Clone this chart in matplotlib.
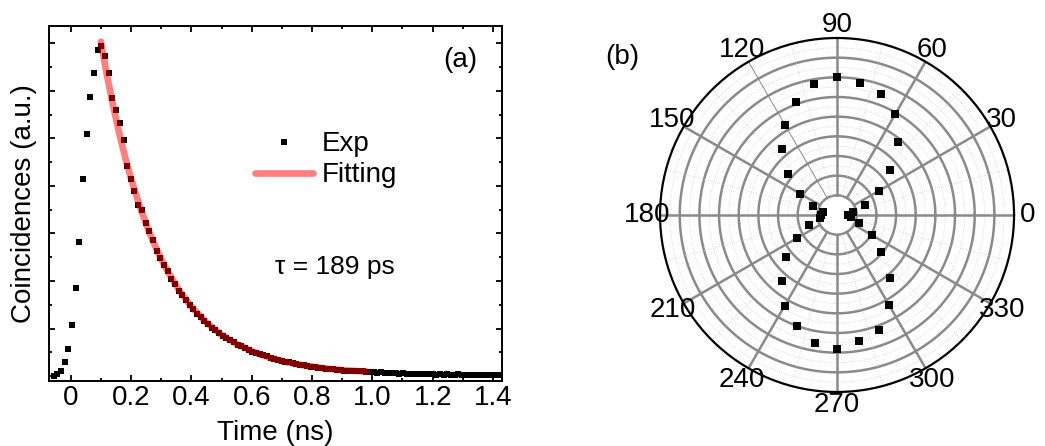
import numpy as np
import matplotlib
matplotlib.use('Agg')
import matplotlib.pyplot as plt
from matplotlib.ticker import MultipleLocator, FixedLocator, FixedFormatter

plt.rcParams['font.family'] = ['Liberation Sans', 'DejaVu Sans']

# ---- panel (a): time-resolved coincidences (a.u.) ----
time_ns = [-0.057, -0.045, -0.033, -0.020, -0.008, 0.004, 0.016, 0.028, 0.041, 0.053,
           0.065, 0.077, 0.089, 0.102, 0.114, 0.126, 0.138, 0.150, 0.163, 0.175,
           0.187, 0.199, 0.211, 0.224, 0.236, 0.248, 0.260, 0.272, 0.285, 0.297,
           0.309, 0.321, 0.333, 0.346, 0.358, 0.370, 0.382, 0.394, 0.407, 0.419,
           0.431, 0.443, 0.455, 0.468, 0.480, 0.492, 0.504, 0.516, 0.529, 0.541,
           0.553, 0.565, 0.577, 0.590, 0.602, 0.614, 0.626, 0.638, 0.651, 0.663,
           0.675, 0.687, 0.699, 0.712, 0.724, 0.736, 0.748, 0.760, 0.773, 0.785,
           0.797, 0.809, 0.821, 0.834, 0.846, 0.858, 0.870, 0.882, 0.895, 0.907,
           0.919, 0.931, 0.943, 0.956, 0.968, 0.980, 0.992, 1.004, 1.017, 1.029,
           1.041, 1.053, 1.065, 1.078, 1.090, 1.102, 1.114, 1.126, 1.139, 1.151,
           1.163, 1.175, 1.187, 1.200, 1.212, 1.224, 1.236, 1.248, 1.261, 1.273,
           1.285, 1.297, 1.309, 1.322, 1.334, 1.346, 1.358, 1.370, 1.383, 1.395,
           1.407, 1.419, 1.431]
counts = [0.01, 0.05, 0.12, 0.29, 0.57, 1.07, 1.86, 2.83, 4.14, 5.10,
          5.87, 6.38, 6.86, 6.95, 6.72, 6.37, 5.85, 5.59, 5.32, 4.96,
          4.42, 4.14, 3.89, 3.59, 3.50, 3.21, 3.05, 2.86, 2.64, 2.49,
          2.33, 2.21, 2.05, 1.93, 1.80, 1.70, 1.60, 1.50, 1.42, 1.31,
          1.24, 1.17, 1.10, 1.02, 0.97, 0.91, 0.85, 0.81, 0.76, 0.72,
          0.66, 0.63, 0.60, 0.56, 0.52, 0.49, 0.47, 0.44, 0.42, 0.39,
          0.37, 0.35, 0.33, 0.31, 0.29, 0.27, 0.26, 0.24, 0.23, 0.22,
          0.20, 0.19, 0.18, 0.17, 0.16, 0.15, 0.15, 0.14, 0.13, 0.12,
          0.12, 0.11, 0.11, 0.10, 0.10, 0.09, 0.09, 0.08, 0.07, 0.08,
          0.06, 0.07, 0.06, 0.06, 0.05, 0.06, 0.05, 0.05, 0.04, 0.05,
          0.04, 0.05, 0.04, 0.04, 0.03, 0.04, 0.03, 0.04, 0.03, 0.03,
          0.04, 0.03, 0.02, 0.03, 0.03, 0.02, 0.03, 0.03, 0.02, 0.03,
          0.02, 0.03, 0.02]

# fitted curve (tau = 189 ps)
fit_t = [0.10, 0.12, 0.14, 0.16, 0.18, 0.20, 0.23, 0.26, 0.29, 0.32, 0.36,
         0.40, 0.45, 0.50, 0.55, 0.60, 0.66, 0.72, 0.78, 0.85, 0.92, 0.98]
fit_y = [7.03, 6.33, 5.70, 5.13, 4.61, 4.15, 3.55, 3.03, 2.59, 2.22, 1.80,
         1.46, 1.13, 0.87, 0.68, 0.53, 0.39, 0.29, 0.22, 0.16, 0.12, 0.10]

xtick_vals = [0, 0.2, 0.4, 0.6, 0.8, 1.0, 1.2, 1.4]
xtick_labels = ['0', '0.2', '0.4', '0.6', '0.8', '1.0', '1.2', '1.4']

# ---- panel (b): polar dependence ----
pol_angle = [0, 10, 20, 30, 40, 50, 60, 70, 80, 90, 100, 110, 120, 130, 140, 150, 160, 170,
             180, 190, 200, 210, 220, 230, 240, 250, 260, 270, 280, 290, 300, 310, 320, 330, 340, 350]
pol_r = [0.55, 0.80, 1.49, 2.47, 3.53, 4.86, 5.91, 6.54, 6.84, 7.02, 6.78, 6.09, 5.31, 4.37,
         3.27, 2.18, 1.28, 0.75, 0.80, 0.90, 1.53, 2.34, 3.36, 4.36, 5.33, 6.00, 6.60, 6.83,
         6.53, 6.25, 5.29, 4.17, 2.94, 2.03, 1.20, 0.72]
theta_labels = ['0', '30', '60', '90', '120', '150', '180', '210', '240', '270', '300', '330']

FS = 20

fig = plt.figure(figsize=(10.45, 4.46), dpi=100)

ax = fig.add_axes([0.0469, 0.1457, 0.4335, 0.796])
ax.plot(time_ns, counts, 's', color='black', ms=4.8, mew=0, zorder=2, label='Exp')
ax.plot(fit_t, fit_y, '-', color='red', alpha=0.5, lw=4.8, solid_capstyle='round',
        solid_joinstyle='round', zorder=3, label='Fitting')
ax.set_xlim(-0.072, 1.43)
ax.set_ylim(-0.1, 7.36)
ax.xaxis.set_major_locator(FixedLocator(xtick_vals))
ax.xaxis.set_major_formatter(FixedFormatter(xtick_labels))
ax.xaxis.set_minor_locator(MultipleLocator(0.1))
ax.yaxis.set_major_locator(MultipleLocator(1))
ax.yaxis.set_minor_locator(MultipleLocator(0.5))
ax.set_yticklabels([])
ax.tick_params(which='both', direction='in', top=True, right=True, width=1.3,
               labelsize=FS, pad=3)
ax.tick_params(which='major', length=4.5)
ax.tick_params(which='minor', length=2.5)
for s in ax.spines.values():
    s.set_linewidth(1.4)
ax.set_xlabel('Time (ns)', fontsize=FS, labelpad=6)
ax.set_ylabel('Coincidences (a.u.)', fontsize=FS, labelpad=6)
ax.legend(loc='upper left', bbox_to_anchor=(0.424, 0.742), frameon=False, fontsize=FS,
          borderpad=0, handlelength=2.1, handletextpad=0.3, labelspacing=0.18,
          markerscale=1.0)
ax.text(0.907, 0.904, '(a)', transform=ax.transAxes, fontsize=FS, ha='center', va='center')
ax.text(0.632, 0.321, 'τ = 189 ps', transform=ax.transAxes, fontsize=FS - 1,
        ha='center', va='center')

# polar panel
pax = fig.add_axes([0.6316, 0.1211, 0.3388, 0.7937], projection='polar')
pax.set_ylim(0, 9)
pax.grid(False)
th = np.linspace(0, 2 * np.pi, 361)
for r in range(1, 9):
    pax.plot(th, [r] * len(th), color='#8a8a8a', lw=1.8, zorder=1)
for r in np.arange(1.5, 9, 1.0):
    pax.plot(th, [r] * len(th), color='#cfcfcf', lw=0.6, ls=':', zorder=1)
for a in range(0, 360, 30):
    lw = 0.7 if a == 120 else 1.8
    pax.plot([np.deg2rad(a)] * 2, [1, 9], color='#8a8a8a', lw=lw, zorder=1)
for a in range(15, 360, 30):
    pax.plot([np.deg2rad(a)] * 2, [1, 9], color='#cfcfcf', lw=0.6, ls=':', zorder=1)
pax.plot(np.deg2rad(pol_angle), pol_r, 's', color='black', ms=6, mew=0, zorder=3)
pax.set_thetagrids(range(0, 360, 30), theta_labels, fontsize=FS)
pax.grid(False)
pax.set_yticks([])
pax.tick_params(axis='x', pad=-1)
pax.spines['polar'].set_linewidth(1.6)

fig.text(622 / 1045, 1 - 57 / 446, '(b)', fontsize=FS, ha='center', va='center')

fig.savefig('out.png', dpi=100)
